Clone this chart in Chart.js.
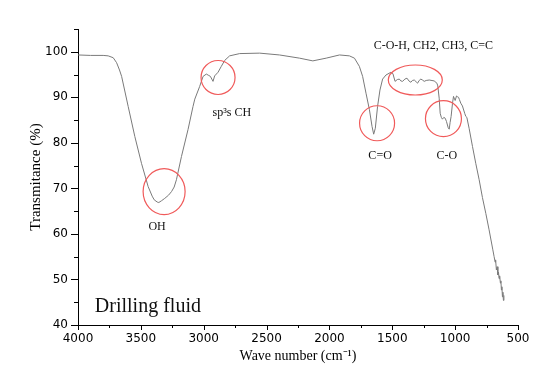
<!DOCTYPE html>
<html>
<head>
<meta charset="utf-8">
<script src="https://cdn.jsdelivr.net/npm/chart.js@4.4.1/dist/chart.umd.min.js"></script>
<style>
    body { margin: 0; background: #ffffff; }
    canvas { display: block; }
</style>
</head>
<body>
<canvas id="ftirChart" width="550" height="382"></canvas>
<script>
// Spectrum (wave number in cm-1, transmittance in %)
const waveNumbers = [
    4000, 3900, 3800, 3760, 3720, 3693, 3670, 3653, 3601, 3548, 3495, 3442, 3410, 3394, 3370, 3357,
    3335, 3310, 3280, 3256, 3235, 3217, 3177, 3125, 3085, 3071, 3032, 3005, 2979, 2960, 2947, 2926,
    2913, 2886, 2860, 2833, 2794, 2714, 2555, 2397, 2238, 2132, 2026, 1920, 1841, 1801, 1762, 1736,
    1709, 1682, 1661, 1648, 1635, 1617, 1598, 1577, 1550, 1511, 1495, 1478, 1460, 1444, 1432, 1418,
    1400, 1383, 1368, 1352, 1340, 1325, 1310, 1299, 1286, 1273, 1260, 1246, 1230, 1206, 1167, 1145,
    1138, 1127, 1119, 1110, 1101, 1090, 1079, 1069, 1055, 1047, 1040, 1032, 1021, 1013, 1005, 1000,
    989, 980, 973, 966, 955, 942, 923, 915, 907, 889, 862, 836, 809, 783, 756, 730,
    700, 690, 682, 678, 672, 666, 660, 655, 651, 646, 640, 636, 632, 628, 624, 620,
    616, 612
];
const transmittance = [
    99.3, 99.2, 99.2, 99.1, 98.7, 97.6, 96.0, 94.6, 88.0, 81.4, 75.5, 70.4, 68.3, 67.5, 67.0, 66.9,
    67.3, 67.8, 68.5, 69.3, 70.3, 71.9, 77.0, 82.9, 88.0, 89.6, 92.4, 94.6, 95.1, 94.8, 94.6, 93.5,
    94.7, 95.5, 96.8, 98.1, 99.1, 99.6, 99.7, 99.3, 98.6, 98.0, 98.6, 99.3, 99.1, 98.6, 96.8, 94.6,
    90.9, 87.3, 83.6, 81.9, 83.2, 88.0, 91.6, 94.0, 94.9, 95.5, 95.2, 93.5, 93.9, 94.0, 93.6, 93.5,
    94.0, 94.2, 93.6, 93.3, 93.7, 93.8, 93.4, 93.1, 93.7, 94.0, 93.8, 93.5, 93.7, 93.8, 93.6, 93.1,
    92.5, 89.8, 86.5, 85.6, 85.2, 85.6, 85.4, 84.7, 83.3, 83.0, 84.5, 85.8, 88.7, 90.2, 89.6, 89.3,
    90.3, 90.1, 90.0, 89.5, 88.7, 88.1, 86.4, 85.8, 85.6, 83.2, 79.2, 75.5, 71.9, 68.0, 64.5, 60.9,
    56.5, 55.0, 53.8, 54.3, 52.1, 52.8, 51.0, 51.6, 50.2, 50.8, 49.2, 49.7, 47.7, 48.4, 46.2, 47.2,
    45.4, 46.5
];

// Axis ranges and tick steps
const xRange = [500, 4000];
const yRange = [40, 105];
const xTickSteps = [500, 250];
const yTickSteps = [10, 5];

// Peak labels and the circles drawn round them
const peakLabels = ['sp³s CH', 'OH', 'C=O', 'C-O', 'C-O-H, CH2, CH3, C=C'];
const peakLabelX = [2776, 3371, 1597, 1067, 1173];
const peakLabelY = [86.0, 60.9, 76.5, 76.5, 100.6];
const circleX = [2886, 3315, 1621, 1093, 1317];
const circleY = [94.35, 69.3, 84.3, 85.3, 93.8];
const circleRx = [17, 21, 17.5, 18, 27];
const circleRy = [17, 23, 17.5, 18, 15];

const sampleName = 'Drilling fluid';
const sampleNameX = 3444;
const sampleNameY = 42.9;

const spectrumPoints = waveNumbers.map((wn, i) => ({ x: wn, y: transmittance[i] }));

// Outward ticks, major and minor, drawn by hand
const axisTicksPlugin = {
    id: 'axisTicks',
    afterDraw(chart) {
        const ctx = chart.ctx;
        const xScale = chart.scales.x;
        const yScale = chart.scales.y;
        const area = chart.chartArea;
        ctx.save();
        ctx.strokeStyle = '#000000';
        ctx.lineWidth = 1;
        ctx.beginPath();
        for (let v = xRange[0]; v <= xRange[1]; v += xTickSteps[1]) {
            const px = Math.round(xScale.getPixelForValue(v)) + 0.5;
            const len = (v % xTickSteps[0] === 0) ? 5 : 3;
            ctx.moveTo(px, area.bottom);
            ctx.lineTo(px, area.bottom + len);
        }
        for (let v = yRange[0]; v <= yRange[1]; v += yTickSteps[1]) {
            const py = Math.round(yScale.getPixelForValue(v)) + 0.5;
            const len = (v % yTickSteps[0] === 0) ? 7 : 4;
            ctx.moveTo(area.left, py);
            ctx.lineTo(area.left - len, py);
        }
        ctx.stroke();
        ctx.restore();
    }
};

// Red circles, peak names and sample name
const peakNotesPlugin = {
    id: 'peakNotes',
    afterDatasetsDraw(chart) {
        const ctx = chart.ctx;
        const xScale = chart.scales.x;
        const yScale = chart.scales.y;
        ctx.save();
        ctx.strokeStyle = '#f05a5a';
        ctx.lineWidth = 1.2;
        circleX.forEach((cx, i) => {
            ctx.beginPath();
            ctx.ellipse(xScale.getPixelForValue(cx), yScale.getPixelForValue(circleY[i]),
                circleRx[i], circleRy[i], 0, 0, Math.PI * 2);
            ctx.stroke();
        });

        ctx.fillStyle = '#111111';
        ctx.textAlign = 'center';
        ctx.textBaseline = 'alphabetic';
        ctx.font = '12px "Liberation Serif", serif';
        peakLabels.forEach((label, i) => {
            ctx.fillText(label, xScale.getPixelForValue(peakLabelX[i]), yScale.getPixelForValue(peakLabelY[i]));
        });

        ctx.font = '20px "Liberation Serif", serif';
        ctx.fillText(sampleName, xScale.getPixelForValue(sampleNameX), yScale.getPixelForValue(sampleNameY));
        ctx.restore();
    }
};

const ctx = document.getElementById('ftirChart').getContext('2d');

new Chart(ctx, {
    type: 'line',
    data: {
        datasets: [{
            data: spectrumPoints,
            borderColor: '#7a7a7a',
            borderWidth: 1,
            pointRadius: 0,
            tension: 0,
            fill: false
        }]
    },
    options: {
        responsive: false,
        animation: false,
        devicePixelRatio: 1,
        layout: {
            padding: { top: 29, right: 32, left: 0, bottom: 0 }
        },
        plugins: {
            legend: { display: false },
            tooltip: { enabled: false }
        },
        scales: {
            x: {
                type: 'linear',
                reverse: true,
                min: xRange[0],
                max: xRange[1],
                grid: { display: false, drawTicks: false },
                border: { display: true, color: '#000000', width: 1 },
                ticks: {
                    stepSize: xTickSteps[0],
                    padding: 7,
                    color: '#000000',
                    maxRotation: 0,
                    callback: (value) => String(value),
                    font: { family: '"DejaVu Sans", sans-serif', size: 12 }
                },
                title: {
                    display: true,
                    text: 'Wave number (cm⁻¹)',
                    color: '#000000',
                    font: { family: '"Liberation Serif", serif', size: 14 },
                    padding: { top: 0, bottom: 17 }
                },
                afterFit(scale) {
                    scale.height = 57;
                }
            },
            y: {
                type: 'linear',
                min: yRange[0],
                max: yRange[1],
                grid: { display: false, drawTicks: false },
                border: { display: true, color: '#000000', width: 1 },
                ticks: {
                    stepSize: yTickSteps[0],
                    includeBounds: false,
                    padding: 10,
                    color: '#000000',
                    callback: (value) => String(value),
                    font: { family: '"DejaVu Sans", sans-serif', size: 12 }
                },
                title: {
                    display: true,
                    text: 'Transmitance (%)',
                    color: '#000000',
                    font: { family: '"Liberation Serif", serif', size: 15 },
                    padding: { top: 27, bottom: 0 }
                },
                afterFit(scale) {
                    scale.width = 78;
                }
            }
        }
    },
    plugins: [axisTicksPlugin, peakNotesPlugin]
});
</script>
</body>
</html>
